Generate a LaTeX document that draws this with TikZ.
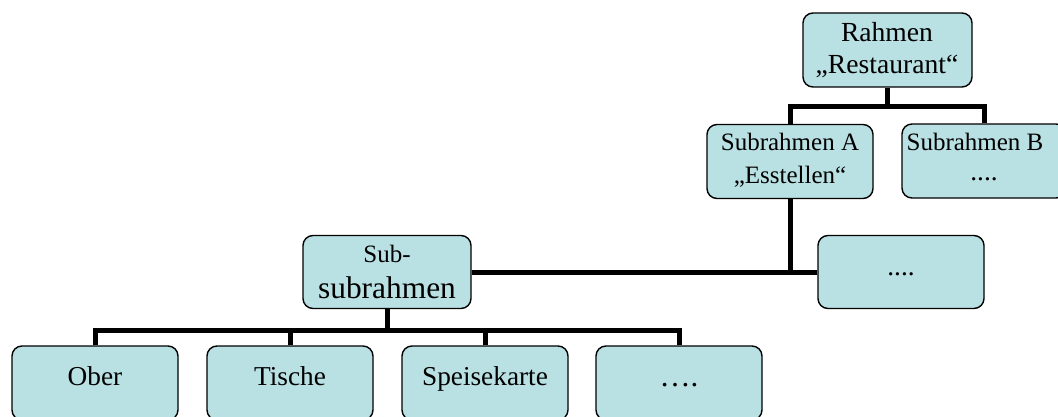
\documentclass[tikz,border=0pt]{standalone}
\usepackage{fontspec}
\setmainfont{Liberation Serif}
\definecolor{boxfill}{RGB}{185,224,227}
\begin{document}
\begin{tikzpicture}[x=1pt,y=-1pt,
  box/.style={draw=black,line width=1.4pt,fill=boxfill,rounded corners=10pt,minimum height=74pt,inner sep=0pt},
  conn/.style={draw=black,line width=5pt},
  txt/.style={anchor=base,inner sep=0pt},
  fa/.style={font=\fontsize{27.6}{30}\selectfont},
  fb/.style={font=\fontsize{25}{28}\selectfont},
  fc/.style={font=\fontsize{31.4}{34}\selectfont},
  fd/.style={font=\fontsize{27.3}{30}\selectfont},
  fe/.style={font=\fontsize{31}{34}\selectfont}]
\useasboundingbox (0,0) rectangle (1058,417);
\clip (0,0) rectangle (1058,417);
% boxes
\node[box,minimum width=169pt] (rahmen) at (887.5,50) {};
\node[box,minimum width=166pt] (subA) at (790,161.5) {};
\node[box,minimum width=164pt] (subB) at (984,161) {};
\node[box,minimum width=168pt,minimum height=73pt] (subsub) at (387,272) {};
\node[box,minimum width=166pt,minimum height=73pt] (more) at (901,272) {};
\node[box,minimum width=166pt] (ober) at (95,383) {};
\node[box,minimum width=166pt] (tische) at (290,383) {};
\node[box,minimum width=166pt] (speise) at (485,383) {};
\node[box,minimum width=166pt] (more2) at (679,383) {};
% connector junctions
\coordinate (j1) at (887.5,107);
\coordinate (j3) at (387,330);
% connectors
\draw[conn] (rahmen.south) -- (j1);
\draw[conn] (subA.north) -- (subA.north |- j1) -- (subB.north |- j1) -- (subB.north);
\draw[conn] (subA.south) -- (subA.south |- more.west);
\draw[conn] (subsub.east) -- (more.west);
\draw[conn] (subsub.south) -- (j3);
\draw[conn] (ober.north) -- (ober.north |- j3) -- (more2.north |- j3) -- (more2.north);
\draw[conn] (tische.north) -- (tische.north |- j3);
\draw[conn] (speise.north) -- (speise.north |- j3);
% texts
\node[txt,fa] (t1) at (887,41.7) {Rahmen};
\node[txt,fa] (t2) at (887,73.5) {„Restaurant“};
\node[txt,fb] (t3) at (790,150) {Subrahmen A};
\node[txt,fb] (t4) at (790,183) {„Esstellen“};
\node[txt,fb] (t5) at (975,150) {Subrahmen B};
\node[txt,fd] (t6) at (984,181) {....};
\node[txt,fb] (t7) at (387,262) {Sub-};
\node[txt,fc] (t8) at (387,298) {subrahmen};
\node[txt,fd] (t9) at (901,275) {....};
\node[txt,fd] (t10) at (95,385) {Ober};
\node[txt,fd] (t11) at (290,385) {Tische};
\node[txt,fd] (t12) at (485,385) {Speisekarte};
\node[txt,fe] (t13) at (679,386) {….};
\end{tikzpicture}
\end{document}
